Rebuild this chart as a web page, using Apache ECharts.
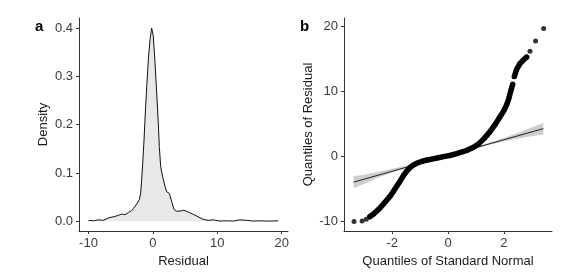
<!DOCTYPE html>
<html>
<head>
<meta charset="utf-8">
<script src="https://cdn.jsdelivr.net/npm/echarts@6/dist/echarts.min.js"></script>
<style>html,body{margin:0;padding:0;background:#fff}#c{width:586px;height:275px}</style>
</head>
<body>
<div id="c"></div>
<script>
// Panel a: density of residuals
const densX = [-10, -9.2, -8.5, -7.7, -6.9, -6.1, -5.4, -4.85, -4.35, -3.8, -3.3, -3.0, -2.5, -2.1, -1.9, -1.75, -1.58, -1.38, -1.18, -0.96, -0.71, -0.45, -0.19, 0.06, 0.33, 0.59, 0.84, 0.99, 1.21, 1.52, 1.88, 2.14, 2.54, 2.91, 3.27, 3.6, 4.2, 4.8, 5.5, 6.25, 7.0, 7.8, 8.6, 9.35, 10.4, 11.4, 12.5, 13.5, 14.5, 15.6, 16.6, 17.6, 18.4, 19.45];
const densY = [0.002, 0.001, 0.003, 0.002, 0.007, 0.0095, 0.012, 0.015, 0.0137, 0.018, 0.022, 0.027, 0.036, 0.045, 0.058, 0.086, 0.12, 0.168, 0.224, 0.279, 0.334, 0.376, 0.40, 0.383, 0.327, 0.265, 0.203, 0.155, 0.113, 0.092, 0.072, 0.061, 0.058, 0.041, 0.025, 0.021, 0.021, 0.023, 0.019, 0.0145, 0.0095, 0.004, 0.002, 0.003, 0.0005, 0.001, 0.0005, 0.003, 0.002, 0.0005, 0.001, 0.0005, 0.0005, 0.001];
const densXTicks = [-10, 0, 10, 20];
const densYTicks = [0, 0.1, 0.2, 0.3, 0.4];

// Panel b: QQ plot
const qqX = [-3.37, -3.08, -2.93, -2.80, -2.68, -2.56, -2.44, -2.32, -2.20, -2.08, -1.96, -1.84, -1.72, -1.60, -1.48, -1.36, -1.24, -1.10, -0.95, -0.78, -0.58, -0.35, -0.11, 0.10, 0.31, 0.50, 0.70, 0.90, 1.10, 1.30, 1.50, 1.70, 1.86, 2.00, 2.10, 2.18, 2.26, 2.32, 2.38, 2.46, 2.58, 2.70, 2.82, 2.94, 3.14, 3.43];
const qqY = [-10.1, -10.0, -9.74, -9.33, -8.97, -8.5, -8.0, -7.4, -6.8, -6.2, -5.45, -4.65, -3.85, -3.0, -2.3, -1.75, -1.35, -1.05, -0.82, -0.62, -0.45, -0.25, -0.02, 0.15, 0.4, 0.65, 0.95, 1.35, 1.9, 2.75, 3.75, 4.95, 6.05, 7.0, 7.9, 8.9, 10.2, 11.1, 12.3, 13.4, 14.3, 14.85, 15.3, 16.2, 17.8, 19.7];
const refLineX = [-3.38, 3.42];
const refLineY = [-4.0, 4.26];
const bandX = [-3.38, -3.0, -2.5, -2.0, -1.5, -1.0, 0, 1.0, 1.5, 2.0, 2.5, 3.0, 3.42];
const bandLow = [-4.95, -4.25, -3.3, -2.51, -1.81, -1.23, 0.03, 1.20, 1.76, 2.26, 2.69, 3.07, 3.37];
const bandHigh = [-3.05, -2.85, -2.4, -1.95, -1.45, -0.99, 0.19, 1.44, 2.12, 2.82, 3.59, 4.43, 5.17];
const qqXTicks = [-2, 0, 2];
const qqYTicks = [-10, 0, 10, 20];

// contiguous runs of overlapping points (index ranges into qqX/qqY)
const denseRuns = [[3, 37], [38, 42]];

const FONT = 'Liberation Sans, Arial, sans-serif';
const tickColor = '#3a3a3a';

function axisCommon(ticks, name, gap, fmt) {
  return {
    type: 'value',
    name: name,
    nameLocation: 'middle',
    nameGap: gap,
    nameTextStyle: {fontFamily: FONT, fontSize: 13, color: '#1a1a1a'},
    axisLine: {show: true, onZero: false, lineStyle: {color: '#333', width: 1}},
    axisTick: {show: true, length: 3, customValues: ticks, lineStyle: {color: '#333', width: 1}},
    axisLabel: {customValues: ticks, margin: 6, fontFamily: FONT, fontSize: 13, color: tickColor,
      formatter: fmt || (v => String(v))},
    splitLine: {show: false}
  };
}

const denseLine = [];
denseRuns.forEach((r, k) => {
  if (k > 0) denseLine.push(['-', '-']);
  for (let i = r[0]; i <= r[1]; i++) denseLine.push([qqX[i], qqY[i]]);
});

const chart = echarts.init(document.getElementById('c'), null, {renderer: 'canvas'});
chart.setOption({
  animation: false,
  backgroundColor: '#fff',
  grid: [
    {left: 79, top: 18, width: 209, height: 213},
    {left: 344, top: 18, width: 208, height: 213}
  ],
  xAxis: [
    Object.assign(axisCommon(densXTicks, 'Residual', 21), {gridIndex: 0, min: -11.475, max: 20.975}),
    Object.assign(axisCommon(qqXTicks, 'Quantiles of Standard Normal', 21), {gridIndex: 1, min: -3.73, max: 3.73})
  ],
  yAxis: [
    Object.assign(axisCommon(densYTicks, 'Density', 29, v => v.toFixed(1)), {gridIndex: 0, min: -0.0201, max: 0.4207}),
    Object.assign(axisCommon(qqYTicks, 'Quantiles of Residual', 29), {gridIndex: 1, min: -11.55, max: 21.34})
  ],
  graphic: [
    {type: 'text', left: 35, top: 19, style: {text: 'a', font: 'bold 15px ' + FONT, fill: '#000'}},
    {type: 'text', left: 300, top: 19, style: {text: 'b', font: 'bold 15px ' + FONT, fill: '#000'}}
  ],
  series: [
    {
      type: 'line', xAxisIndex: 0, yAxisIndex: 0,
      data: densX.map((x, i) => [x, densY[i]]),
      symbol: 'none', smooth: false,
      lineStyle: {color: '#111', width: 1},
      areaStyle: {color: '#e8e8e8', opacity: 1, origin: 0}
    },
    {
      type: 'custom', xAxisIndex: 1, yAxisIndex: 1,
      data: [[0, 0]], z: 1, silent: true,
      renderItem: function (params, api) {
        const pts = [];
        for (let i = 0; i < bandX.length; i++) pts.push(api.coord([bandX[i], bandHigh[i]]));
        for (let i = bandX.length - 1; i >= 0; i--) pts.push(api.coord([bandX[i], bandLow[i]]));
        return {type: 'polygon', shape: {points: pts}, style: {fill: 'rgba(190,190,190,0.75)'}};
      }
    },
    {
      type: 'line', xAxisIndex: 1, yAxisIndex: 1,
      data: refLineX.map((x, i) => [x, refLineY[i]]),
      symbol: 'none', lineStyle: {color: '#222', width: 1}, z: 2
    },
    {
      type: 'line', xAxisIndex: 1, yAxisIndex: 1,
      data: denseLine, connectNulls: false,
      symbol: 'none', lineStyle: {color: '#000', width: 5.5, cap: 'round', join: 'round'}, z: 3
    },
    {
      type: 'scatter', xAxisIndex: 1, yAxisIndex: 1,
      data: qqX.map((x, i) => [x, qqY[i]]),
      symbol: 'circle', symbolSize: 5,
      itemStyle: {color: '#000'}, z: 4
    }
  ]
});
</script>
</body>
</html>
